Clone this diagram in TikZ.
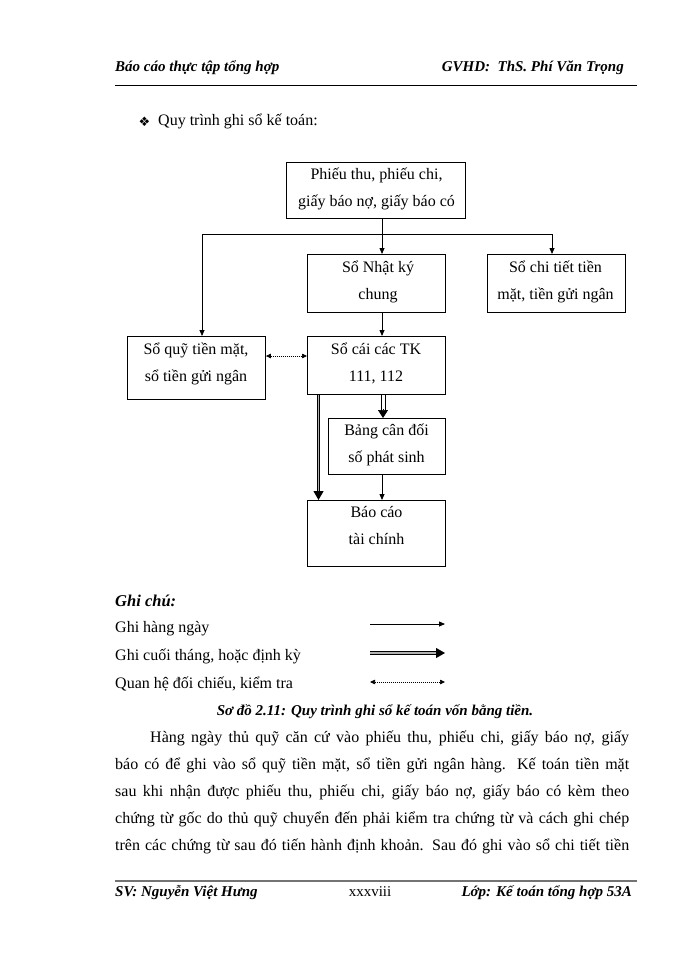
\documentclass[tikz,border=0pt]{standalone}
\usepackage{fontspec}
\setmainfont{Liberation Serif}
\newfontfamily\symfont{DejaVu Sans}
\usetikzlibrary{arrows.meta,calc}
\newcommand\vst{\rule[-6pt]{0pt}{20pt}}
\begin{document}
\begin{tikzpicture}[x=1pt,y=-1pt,
  box/.style={draw, line width=0.9pt, inner sep=0pt, anchor=north west},
  btxt/.style={inner sep=0pt, align=center, font=\fontsize{16}{27}\selectfont},
  body/.style={inner sep=0pt, font=\fontsize{16}{27}\selectfont},
  hdr/.style={inner sep=0pt, font=\fontsize{15}{18}\selectfont\bfseries\itshape},
  arr/.style={line width=0.8pt, -{Triangle[length=6pt,width=5pt]}},
  plain/.style={line width=0.8pt},
  dotarr/.style={line width=0.7pt, dash pattern=on 1pt off 1pt,
     {Triangle[length=5pt,width=4.5pt]}-{Triangle[length=5pt,width=4.5pt]}},
  dblline/.style={line width=0.9pt},
  dblhead/.style={line width=0.7pt, -{Triangle[length=8pt,width=10pt]}},
  thickarr/.style={double=gray!60, double distance=1.6pt, line width=1.1pt,
     -{Triangle[length=9pt,width=10pt]}},
  rulehdr/.style={line width=1.2pt},
  rulefoot/.style={line width=2.6pt, black!55}
]
\useasboundingbox[fill=white] (0,0) rectangle (700,960);

% header
\node[hdr, anchor=base west] (h1) at (115,72) {Báo cáo thực tập tổng hợp};
\node[hdr, anchor=base east] (h2) at (624,72) {GVHD:\ \ ThS.\ Phí Văn Trọng};
\coordinate (hr1) at (115,85.5);
\coordinate (hr2) at (637,85.5);
\draw[rulehdr] (hr1) -- (hr2);

% title
\node[inner sep=0pt, font=\symfont\fontsize{13}{14}\selectfont] (bul) at (144.5,121.5) {❖};
\node[body, anchor=base west] (ttl) at (158,126) {Quy trình ghi\ sổ kế toán:};

% boxes
\node[box, minimum width=179pt, minimum height=56pt] (p1) at (286,162) {};
\node[box, minimum width=138pt, minimum height=58pt] (nk) at (307,254) {};
\node[box, minimum width=138pt, minimum height=58pt] (ct) at (487,254) {};
\node[box, minimum width=138pt, minimum height=63pt] (sq) at (127,336) {};
\node[box, minimum width=138pt, minimum height=58pt] (sc) at (307,336) {};
\node[box, minimum width=117pt, minimum height=56pt] (bc) at (328,418) {};
\node[box, minimum width=138pt, minimum height=66pt] (tc) at (307,500) {};

% box texts
\node[btxt] (p1t) at (376.5,189) {\vst Phiếu\ thu, phiếu\ chi,\\\vst giấy\ báo nợ, giấy\ báo có};
\node[btxt] (nkt) at (378,281.5) {\vst Sổ Nhật ký\\\vst chung};
\node[btxt] (ctt) at (555.5,281.5) {\vst Sổ chi tiết\ tiền\\\vst mặt, tiền\ gửi ngân};
\node[btxt] (sqt) at (196,363.5) {\vst Sổ quỹ tiền\ mặt,\\\vst sổ tiền\ gửi ngân};
\node[btxt] (sct) at (376,363.5) {\vst Sổ cái các TK\\\vst 111, 112};
\node[btxt] (bct) at (386.5,445) {\vst Bảng cân đối\\\vst số phát sinh};
\node[btxt] (tct) at (376.5,526.5) {\vst Báo cáo\\\vst tài chính};

% connectors
\coordinate (ax) at (382,0);
\coordinate (ax2) at (383,0);
\coordinate (ax2l) at (381,0);
\coordinate (ax2r) at (385,0);
\coordinate (lx) at (318.5,0);
\coordinate (jl) at (202,234);
\coordinate (jr) at (552,234);
\coordinate (dy) at (0,356);
\draw[arr] (p1.south -| ax) -- (nk.north -| ax);
\draw[plain] (jl) -- (jr);
\draw[arr] (jl) -- (jl |- sq.north);
\draw[arr] (jr) -- (jr |- ct.north);
\draw[arr] (nk.south -| ax) -- (sc.north -| ax);
\draw[dotarr] (sq.east |- dy) -- (sc.west |- dy);
\draw[dblline] (sc.south -| ax2l) -- ($(bc.north -| ax2l)+(0,-7)$);
\draw[dblline] (sc.south -| ax2r) -- ($(bc.north -| ax2r)+(0,-7)$);
\draw[dblhead] ($(bc.north -| ax2)+(0,-9)$) -- (bc.north -| ax2);
\draw[arr] (bc.south -| ax) -- (tc.north -| ax);
\draw[thickarr] (sc.south -| lx) -- (tc.north -| lx);

% legend
\node[inner sep=0pt, anchor=base west, font=\fontsize{16.5}{20}\selectfont\bfseries\itshape] (gc) at (115,606) {Ghi chú:};
\node[body, anchor=base west] (g1) at (115,632.5) {Ghi hàng ngày};
\node[body, anchor=base west] (g2) at (115,660) {Ghi\ cuối tháng, hoặc định kỳ};
\node[body, anchor=base west] (g3) at (115,688) {Quan hệ đối chiếu, kiểm\ tra};
\coordinate (l1a) at (370,624); \coordinate (l1b) at (445,624);
\coordinate (l2a) at (370,653); \coordinate (l2b) at (445,653);
\coordinate (l3a) at (370,682); \coordinate (l3b) at (445,682);
\draw[arr] (l1a) -- (l1b);
\draw[thickarr] (l2a) -- (l2b);
\draw[dotarr] (l3a) -- (l3b);
\node[hdr, anchor=base] (cap) at (375,715.5) {Sơ đồ 2.11: Quy trình ghi sổ kế toán vốn\ bằng tiền.};

% paragraph
\node[body, anchor=base west] (q1) at (150,742) {\makebox[479pt][s]{Hàng ngày thủ quỹ căn cứ vào phiếu thu, phiếu chi, giấy báo nợ, giấy}};
\node[body, anchor=base west] (q2) at (115,769) {\makebox[514pt][s]{báo có để ghi vào sổ quỹ tiền mặt, sổ tiền gửi ngân hàng. Kế toán tiền mặt}};
\node[body, anchor=base west] (q3) at (115,796) {\makebox[514pt][s]{sau khi nhận được phiếu thu, phiếu chi, giấy báo nợ, giấy báo có kèm theo}};
\node[body, anchor=base west] (q4) at (115,823) {\makebox[514pt][s]{chứng từ gốc do thủ quỹ chuyển đến phải kiểm tra chứng từ và cách ghi chép}};
\node[body, anchor=base west] (q5) at (115,850) {\makebox[514pt][s]{trên các chứng từ sau đó tiến hành định khoản. Sau đó ghi vào sổ chi tiết tiền}};

% footer
\coordinate (fr1) at (115,881);
\coordinate (fr2) at (637,881);
\draw[rulefoot] (fr1) -- (fr2);
\node[hdr, anchor=base west] (f1) at (115,896) {SV:\ Nguyễn Việt Hưng};
\node[body, anchor=base, font=\fontsize{15}{18}\selectfont] (f2) at (370,896) {xxxviii};
\node[hdr, anchor=base east] (f3) at (632,896) {Lớp: Kế toán tổng hợp 53A};
\end{tikzpicture}
\end{document}
